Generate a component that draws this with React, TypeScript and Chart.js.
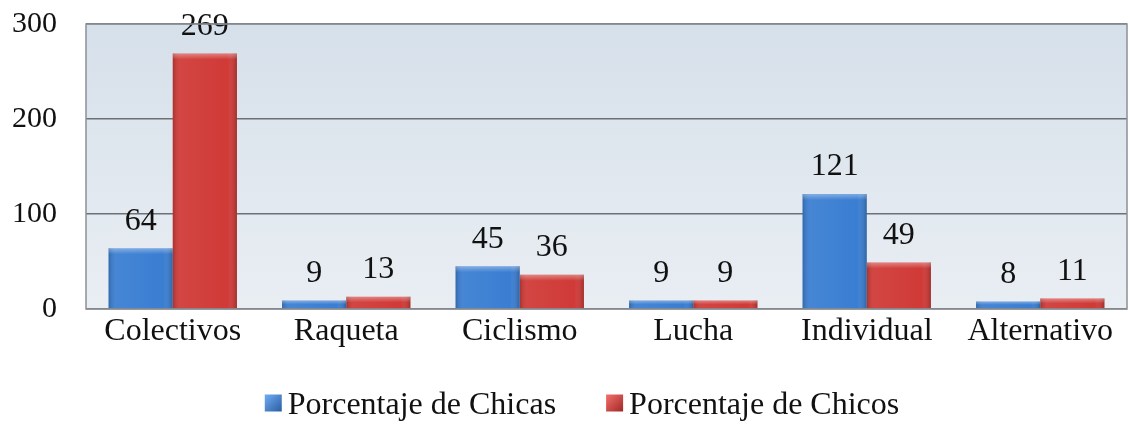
import React, { useEffect, useRef } from "react";
import { Chart, registerables } from "chart.js";

Chart.register(...registerables);

const categories = ["Colectivos", "Raqueta", "Ciclismo", "Lucha", "Individual", "Alternativo"];
const chicas = [64, 9, 45, 9, 121, 8];
const chicos = [269, 13, 36, 9, 49, 11];
const seriesNames = ["Porcentaje de Chicas", "Porcentaje de Chicos"];
const yTicks = [0, 100, 200, 300];

const FONT = "'Liberation Serif', 'Times New Roman', serif";

const bgPlugin = {
  id: "plotBg",
  beforeDraw(chart: any) {
    const { ctx, chartArea: a } = chart;
    if (!a) return;
    ctx.save();
    const g = ctx.createLinearGradient(0, a.top, 0, a.bottom);
    g.addColorStop(0, "#d6e0ea");
    g.addColorStop(1, "#e9eef3");
    ctx.fillStyle = g;
    ctx.fillRect(a.left, a.top, a.right - a.left, a.bottom - a.top);
    ctx.restore();
  },
  afterDraw(chart: any) {
    const { ctx, chartArea: a } = chart;
    ctx.save();
    ctx.strokeStyle = "#8c9096";
    ctx.lineWidth = 1.5;
    ctx.strokeRect(a.left, a.top, a.right - a.left, a.bottom - a.top);
    ctx.restore();
  },
};

const shadePlugin = {
  id: "barShade",
  afterDatasetsDraw(chart: any) {
    const { ctx } = chart;
    ctx.save();
    chart.data.datasets.forEach((_ds: any, i: number) => {
      const meta = chart.getDatasetMeta(i);
      meta.data.forEach((bar: any) => {
        const w = bar.width;
        const l = bar.x - w / 2;
        const t = bar.y;
        const h = bar.base - bar.y;
        const g = ctx.createLinearGradient(l, 0, l + w, 0);
        g.addColorStop(0, "rgba(0,0,0,0.18)");
        g.addColorStop(0.12, "rgba(255,255,255,0.06)");
        g.addColorStop(0.85, "rgba(255,255,255,0.0)");
        g.addColorStop(1, "rgba(0,0,0,0.22)");
        ctx.fillStyle = g;
        ctx.fillRect(l, t, w, h);
        const hh = Math.min(6, h / 2);
        const g2 = ctx.createLinearGradient(0, t, 0, t + hh);
        g2.addColorStop(0, "rgba(255,255,255,0.35)");
        g2.addColorStop(1, "rgba(255,255,255,0)");
        ctx.fillStyle = g2;
        ctx.fillRect(l, t, w, hh);
      });
    });
    ctx.restore();
  },
};

const labelPlugin = {
  id: "valueLabels",
  afterDatasetsDraw(chart: any) {
    const { ctx } = chart;
    ctx.save();
    ctx.font = `32px ${FONT}`;
    ctx.fillStyle = "#111";
    ctx.textAlign = "center";
    ctx.textBaseline = "middle";
    chart.data.datasets.forEach((ds: any, i: number) => {
      const meta = chart.getDatasetMeta(i);
      meta.data.forEach((bar: any, j: number) => {
        ctx.fillText(String(ds.data[j]), bar.x, bar.y - 27);
      });
    });
    ctx.restore();
  },
};

const legendPlugin = {
  id: "customLegend",
  afterDraw(chart: any) {
    const { ctx } = chart;
    ctx.save();
    ctx.font = `32px ${FONT}`;
    ctx.textBaseline = "middle";
    ctx.textAlign = "left";
    const sq = 17;
    const g1 = 6;
    const g2 = 50;
    const names = chart.data.datasets.map((d: any) => d.label);
    const widths = names.map((n: string) => ctx.measureText(n).width);
    const total = widths.reduce((s: number, w: number) => s + w + sq + g1, 0) + g2 * (names.length - 1);
    let x = 582 - total / 2;
    const y = 406;
    chart.data.datasets.forEach((d: any, i: number) => {
      const grad = ctx.createLinearGradient(x, y - sq / 2, x + sq, y + sq / 2);
      grad.addColorStop(0, d.lightColor);
      grad.addColorStop(1, d.borderColor);
      ctx.fillStyle = grad;
      ctx.fillRect(x, y - sq / 2 - 3, sq, sq);
      x += sq + g1;
      ctx.fillStyle = "#111";
      ctx.fillText(names[i], x, y);
      x += widths[i] + g2;
    });
    ctx.restore();
  },
};

export default function App() {
  const ref = useRef<HTMLCanvasElement>(null);
  useEffect(() => {
    document.body.style.margin = "0";
    const c = new Chart(ref.current!, {
      type: "bar",
      data: {
        labels: categories,
        datasets: [
          {
            label: seriesNames[0],
            data: chicas,
            backgroundColor: "#3a7ed2",
            borderColor: "#24569a",
            lightColor: "#6aa6ec",
            borderWidth: 0,
            categoryPercentage: 0.74,
            barPercentage: 1,
          } as any,
          {
            label: seriesNames[1],
            data: chicos,
            backgroundColor: "#d03a37",
            borderColor: "#9a2220",
            lightColor: "#ec6a66",
            borderWidth: 0,
            categoryPercentage: 0.74,
            barPercentage: 1,
          } as any,
        ],
      },
      plugins: [bgPlugin, shadePlugin, labelPlugin, legendPlugin],
      options: {
        animation: false,
        responsive: false,
        layout: { padding: { top: 24, left: 0, right: 3, bottom: 71 } },
        plugins: {
          legend: { display: false },
          tooltip: { enabled: false },
        },
        scales: {
          x: {
            grid: { display: false, drawTicks: false },
            border: { display: false },
            ticks: { font: { family: FONT, size: 32 }, color: "#111", padding: 3 },
            afterFit(s: any) {
              s.height = 50;
              s.paddingTop = 0;
              s.paddingBottom = 0;
            },
          },
          y: {
            min: 0,
            max: 300,
            afterBuildTicks(s: any) {
              s.ticks = yTicks.map((v) => ({ value: v }));
            },
            grid: { color: "#6d7075", lineWidth: 1.5, drawTicks: false },
            border: { display: false },
            ticks: { font: { family: FONT, size: 30 }, color: "#111", padding: 29 },
            afterFit(s: any) {
              s.width = 86;
              s.paddingTop = 0;
              s.paddingBottom = 0;
            },
          },
        },
      },
    });
    return () => c.destroy();
  }, []);
  return <canvas ref={ref} width={1130} height={430} style={{ display: "block" }} />;
}
